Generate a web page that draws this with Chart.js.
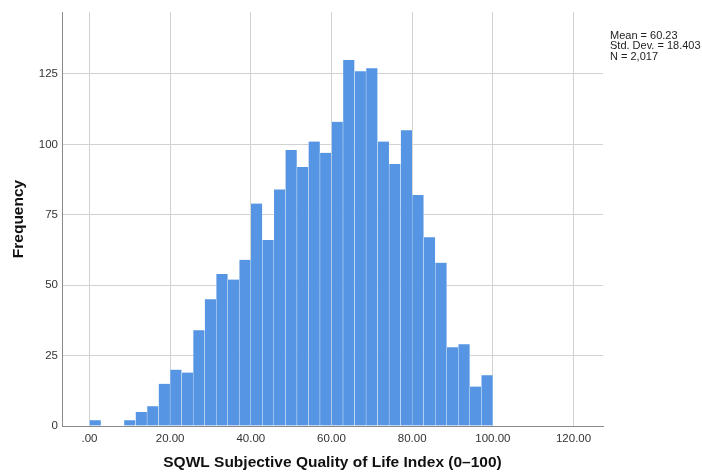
<!DOCTYPE html>
<html><head><meta charset="utf-8">
<script src="https://cdn.jsdelivr.net/npm/chart.js@4/dist/chart.umd.min.js"></script>
<style>html,body{margin:0;padding:0;background:#fff;}#wrap{width:702px;height:473px;position:relative;}</style>
</head><body><div id="wrap"><canvas id="c" width="702" height="473"></canvas></div>
<script>
const binCount = 35;
const binMin = 0;
const binMax = 100;
const frequencies = [2,0,0,2,5,7,15,20,19,34,45,54,52,59,79,66,84,98,92,101,97,108,130,126,127,101,93,105,82,67,58,28,29,14,18];
const xTickValues = [0,20,40,60,80,100,120];
const yTickValues = [0,25,50,75,100,125];
const statsLines = ["Mean = 60.23","Std. Dev. = 18.403","N = 2,017"];
const xTitle = "SQWL Subjective Quality of Life Index (0\u2013100)";
const yTitle = "Frequency";

const binWidth = (binMax - binMin) / binCount;
const points = frequencies.map((f,i)=>({x: binMin + (i+0.5)*binWidth, y: f}));
const FONT = '"Liberation Sans", Arial, sans-serif';

const statsPlugin = {
  id:'stats',
  afterDraw(chart){
    const ctx = chart.ctx;
    ctx.save();
    ctx.font = '11px ' + FONT;
    ctx.fillStyle = '#222';
    ctx.textBaseline = 'middle';
    statsLines.forEach((t,i)=>ctx.fillText(t, 610, 35.5 + i*10.5));
    ctx.restore();
  }
};

new Chart(document.getElementById('c'), {
  type:'bar',
  data:{datasets:[{
    data: points,
    backgroundColor:'#5595e3',
    borderColor:'rgba(255,255,255,0.55)',
    borderWidth:{left:0.5,right:0.5,top:0,bottom:0},
    barPercentage:1, categoryPercentage:1
  }]},
  options:{
    responsive:false, animation:false,
    layout:{padding:{left:0,top:12,right:99,bottom:0}},
    plugins:{legend:{display:false},tooltip:{enabled:false}},
    scales:{
      x:{type:'linear', min:-6.8, max:127.3, offset:false,
        afterBuildTicks(s){ s.ticks = xTickValues.map(v=>({value:v})); },
        afterFit(s){ s.height = 47; },
        ticks:{padding:6, color:'#333', font:{family:FONT, size:11.5},
          callback(v){ return v===0 ? '.00' : v.toFixed(2); }, maxRotation:0, autoSkip:false},
        grid:{color:'#d2d2d2', lineWidth:1, drawTicks:false, offset:false},
        border:{display:true, color:'#8a8a8a', width:1},
        title:{display:true, text:xTitle, color:'#111', font:{family:FONT, size:15.5, weight:'bold'}, padding:{top:0,bottom:1}}
      },
      y:{min:0, max:147,
        afterBuildTicks(s){ s.ticks = yTickValues.map(v=>({value:v})); },
        afterFit(s){ s.width = 62; },
        ticks:{padding:4, color:'#333', font:{family:FONT, size:11.5}},
        grid:{color:'#d2d2d2', lineWidth:1, drawTicks:false},
        border:{display:true, color:'#8a8a8a', width:1},
        title:{display:true, text:yTitle, color:'#111', font:{family:FONT, size:15.5, weight:'bold'}, padding:{top:9,bottom:0}}
      }
    }
  },
  plugins:[statsPlugin]
});
</script></body></html>
